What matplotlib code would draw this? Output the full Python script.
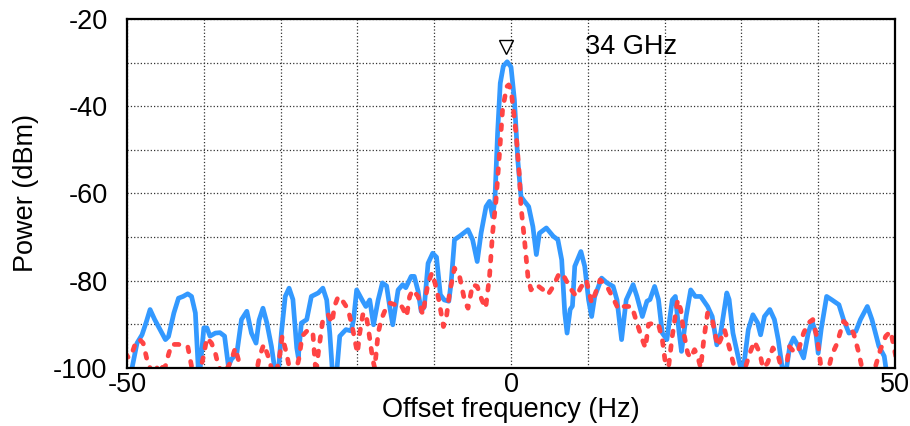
import numpy as np
import matplotlib
matplotlib.use('Agg')
import matplotlib.pyplot as plt

plt.rcParams['font.family'] = ['Liberation Sans', 'DejaVu Sans']
plt.rcParams['axes.unicode_minus'] = False

########## Data ##########
# solid blue trace: offset frequency (Hz) and power (dBm), 10 points per line
blue_f = [-49.6, -49.35, -48.7, -48.05, -47.5, -47.0, -46.4, -45.7, -45.0, -44.6,
          -43.9, -43.3, -42.7, -42.1, -41.6, -41.1, -40.7, -40.5, -40.0, -39.6,
          -39.2, -38.5, -37.9, -37.3, -36.8, -36.4, -35.7, -35.1, -34.4, -33.8,
          -33.2, -32.8, -32.3, -31.8, -31.2, -30.7, -30.3, -29.9, -29.4, -28.9,
          -28.4, -27.9, -27.7, -27.3, -26.6, -26.0, -25.1, -24.5, -24.0, -23.6,
          -23.25, -22.7, -22.3, -21.5, -20.8, -20.5, -20.1, -19.3, -18.9, -18.4,
          -17.9, -17.3, -16.75, -16.2, -15.8, -15.4, -14.7, -14.1, -13.7, -13.0,
          -12.6, -12.1, -11.7, -11.3, -10.8, -10.2, -9.7, -9.2, -8.7, -8.1,
          -7.8, -7.36, -6.7, -5.6, -5.0, -4.4, -3.9, -3.25, -2.8, -2.4,
          -2.1, -1.75, -1.4, -1.0, -0.5, 0.0, 0.44, 0.88, 1.3, 1.75,
          2.3, 2.85, 3.3, 3.7, 4.6, 5.5, 6.1, 6.6, 7.0, 7.3,
          7.7, 8.0, 8.3, 9.1, 9.6, 10.1, 10.5, 10.9, 11.8, 12.5,
          13.3, 13.8, 14.4, 15.0, 15.9, 16.4, 17.1, 17.7, 18.1, 18.7,
          19.2, 19.7, 20.3, 21.0, 21.4, 21.9, 22.2, 22.8, 23.4, 24.0,
          24.7, 25.6, 26.2, 26.8, 27.3, 28.1, 28.4, 28.9, 29.8, 30.2,
          30.9, 31.5, 32.1, 32.5, 33.0, 33.7, 34.3, 34.8, 35.4, 35.8,
          36.3, 36.8, 37.4, 38.1, 38.7, 39.2, 39.7, 40.0, 40.4, 41.1,
          41.8, 42.7, 43.3, 44.0, 44.9, 45.5, 46.4, 47.0, 47.9, 48.6,
          48.9]
blue_p = [-102, -100, -94.3, -92.4, -89.5, -86.6, -88.9, -91.2, -93.5, -92.8,
          -87.4, -84.0, -83.6, -83.0, -83.6, -87.4, -101, -100.5, -90.8, -90.8,
          -92.7, -92.0, -91.9, -92.7, -99.6, -98.0, -96.6, -88.9, -87.0, -92.0,
          -94.3, -89.0, -86.3, -89.6, -95.0, -101, -101, -92.0, -83.6, -81.7,
          -84.3, -95.4, -97.5, -89.7, -88.9, -83.6, -82.8, -81.7, -84.4, -92.0,
          -101, -101, -92.7, -91.2, -91.5, -88.9, -82.1, -84.7, -85.9, -84.4,
          -90.1, -84.4, -80.5, -81.2, -85.9, -90.1, -82.1, -80.9, -81.6, -79.0,
          -79.0, -82.4, -87.0, -86.0, -76.0, -73.7, -74.6, -83.2, -84.4, -84.7,
          -80.5, -70.6, -69.8, -68.3, -70.6, -75.6, -69.1, -63.0, -61.8, -65.3,
          -61.5, -46.2, -34.7, -30.8, -29.8, -31.0, -38.5, -52.3, -60.7, -61.8,
          -63.0, -67.6, -74.0, -69.1, -67.9, -69.8, -70.6, -75.2, -87.4, -92.0,
          -86.6, -85.8, -76.7, -73.3, -76.7, -84.4, -88.2, -83.6, -79.4, -80.5,
          -81.3, -84.4, -93.5, -84.4, -80.9, -83.6, -88.2, -84.7, -84.3, -81.3,
          -84.3, -92.0, -93.5, -84.4, -83.6, -92.0, -96.2, -88.2, -82.1, -83.6,
          -83.6, -85.9, -88.2, -94.7, -92.0, -82.8, -84.3, -92.0, -99.2, -101,
          -91.2, -87.8, -89.6, -92.4, -88.2, -86.6, -88.9, -93.5, -101, -101,
          -95.0, -93.1, -95.0, -97.7, -92.0, -89.3, -92.0, -96.6, -91.0, -83.6,
          -84.4, -85.5, -88.9, -92.0, -91.6, -88.9, -85.9, -88.9, -95.0, -97.3,
          -101]

# dotted red trace, 10 points per line
red_f = [-50.2, -49.8, -49.35, -48.9, -48.4, -47.9, -47.4, -47.0, -46.5, -45.9,
         -45.4, -45.0, -44.6, -44.2, -43.3, -42.7, -42.1, -41.6, -41.1, -40.5,
         -40.0, -39.6, -39.0, -38.5, -38.1, -37.4, -36.8, -36.4, -35.9, -35.5,
         -35.1, -33.2, -32.8, -32.2, -31.7, -31.2, -30.6, -30.1, -29.8, -29.2,
         -28.9, -28.1, -27.6, -27.2, -26.4, -25.8, -25.6, -25.4, -25.1, -24.5,
         -23.8, -23.3, -23.0, -22.5, -21.9, -21.2, -20.6, -20.0, -19.7, -19.3,
         -18.9, -18.5, -18.0, -17.75, -17.3, -16.9, -16.45, -15.8, -15.1, -14.5,
         -14.1, -13.6, -13.2, -12.8, -12.1, -11.5, -10.8, -10.3, -9.9, -9.4,
         -8.8, -8.4, -8.0, -7.36, -6.7, -6.06, -5.6, -5.0, -4.4, -3.8,
         -3.3, -2.8, -2.4, -1.95, -1.5, -1.1, -0.56, -0.3, 0.0, 0.66,
         1.1, 1.3, 1.75, 2.2, 2.6, 3.3, 4.2, 4.8, 5.5, 6.3,
         6.9, 7.7, 8.5, 9.1, 9.8, 10.5, 11.0, 11.6, 12.5, 13.3,
         14.0, 14.7, 15.75, 16.4, 17.1, 17.5, 17.9, 18.6, 19.2, 19.7,
         20.1, 20.4, 21.0, 21.7, 22.1, 22.5, 23.0, 23.4, 23.9, 24.3,
         24.7, 25.1, 25.6, 26.2, 26.9, 27.3, 27.8, 28.5, 29.1, 29.9,
         30.4, 31.1, 31.7, 32.4, 32.8, 33.4, 34.1, 34.8, 35.2, 35.8,
         36.2, 37.0, 37.4, 38.1, 38.7, 39.3, 39.9, 40.3, 40.7, 41.3,
         41.8, 42.4, 43.3, 44.0, 44.6, 45.3, 45.7, 46.4, 47.4, 48.1,
         48.8, 49.45, 50.1]
red_p = [-96.6, -97.7, -96.6, -94.3, -93.4, -94.3, -98.1, -100, -102, -99.0,
         -100, -99.6, -96.9, -94.6, -94.6, -94.9, -95.0, -99.6, -101.5, -101,
         -96.9, -93.1, -94.3, -96.6, -99.6, -101.5, -99.6, -98.1, -95.4, -98.1,
         -101.5, -101.5, -97.7, -94.6, -96.9, -100, -101.5, -96.9, -92.7, -96.9,
         -99.6, -101.5, -97.7, -92.7, -91.2, -92.0, -96.6, -101.5, -96.6, -88.9,
         -87.8, -89.7, -85.9, -83.6, -84.7, -86.6, -91.2, -96.6, -92.0, -87.8,
         -87.4, -92.0, -98.1, -100, -92.0, -88.9, -87.0, -85.1, -85.5, -85.1,
         -86.3, -88.2, -83.6, -82.1, -83.6, -87.8, -80.5, -78.2, -80.5, -84.4,
         -90.5, -88.2, -82.8, -77.1, -79.0, -84.4, -86.3, -80.9, -81.3, -84.4,
         -86.3, -79.0, -69.1, -61.5, -50.8, -40.8, -35.5, -35.1, -36.2, -46.2,
         -56.1, -63.0, -70.6, -79.0, -82.1, -80.9, -82.1, -83.2, -81.3, -78.2,
         -79.0, -81.7, -83.6, -81.5, -79.8, -85.1, -82.8, -79.8, -81.3, -84.0,
         -86.6, -85.9, -85.9, -89.7, -93.5, -95.4, -90.0, -89.7, -90.0, -93.5,
         -98.9, -101.5, -92.7, -84.4, -86.6, -92.0, -96.6, -97.7, -95.8, -97.3,
         -100, -93.5, -87.4, -88.9, -95.0, -93.5, -91.2, -95.8, -100, -101.5,
         -100.5, -96.6, -93.9, -96.6, -100, -98.9, -95.4, -97.3, -100, -101,
         -95.0, -96.6, -96.1, -92.0, -89.7, -88.9, -93.5, -98.9, -101.5, -100.5,
         -96.9, -94.6, -89.3, -90.5, -92.0, -96.6, -100, -101.5, -100, -95.8,
         -92.7, -91.6, -97.3]

peak_f, peak_p = -0.6, -26.4      # the open triangle over the carrier
carrier_label = '34 GHz'

########## Plot ##########
fig = plt.figure(figsize=(9.1, 4.26), dpi=100)
ax = fig.add_axes([0.1396, 0.1362, 0.8439, 0.8192])

ax.plot(blue_f, blue_p, color='#3399FF', lw=3.4, solid_joinstyle='round',
        solid_capstyle='round', zorder=3)
ax.plot(red_f, red_p, color='#FF4444', lw=3.4, dashes=(1.0, 2.1),
        dash_capstyle='round', dash_joinstyle='round', zorder=4)
ax.plot([peak_f], [peak_p], marker='v', ms=9.5, mfc='none', mec='black', mew=1.0, zorder=5)
ax.text(9.6, peak_p, carrier_label, fontsize=19.5, ha='left', va='center')

ax.set_xlim(-50, 50)
ax.set_ylim(-100, -20)
ax.set_xticks([-50, 0, 50])
ax.set_xticks(np.arange(-50, 51, 10), minor=True)
ax.set_yticks(np.arange(-100, -19, 20))
ax.set_yticks(np.arange(-100, -19, 10), minor=True)
ax.grid(which='both', color='#333333', linestyle=':', lw=0.9, zorder=0)
ax.set_axisbelow(True)
ax.tick_params(which='both', length=0, labelsize=19.5)
ax.tick_params(axis='y', pad=14)
ax.tick_params(axis='x', pad=3)

for s in ax.spines.values():
    s.set_linewidth(1.6)
    s.set_zorder(6)

ax.set_xlabel('Offset frequency (Hz)', fontsize=19.5, labelpad=-1)
ax.set_ylabel('Power (dBm)', fontsize=19.5, labelpad=10)

fig.savefig('out.png', dpi=100)
